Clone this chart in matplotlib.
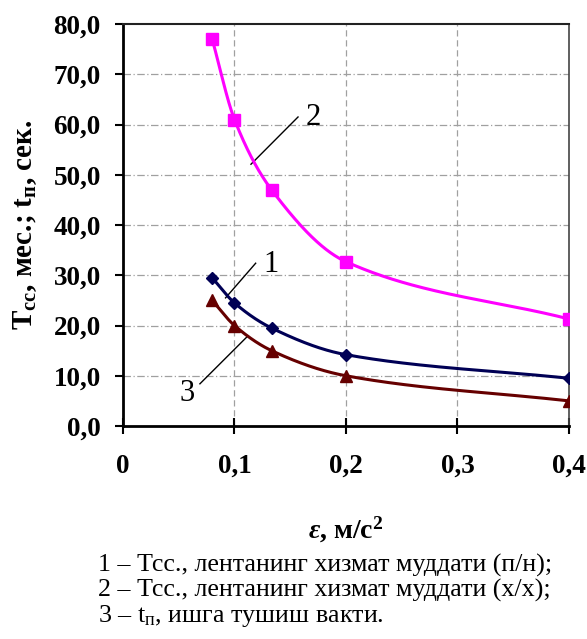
import numpy as np
import matplotlib.pyplot as plt

plt.rcParams['font.family'] = ['Liberation Serif', 'DejaVu Serif']
plt.rcParams['mathtext.fontset'] = 'custom'
plt.rcParams['mathtext.rm'] = 'Liberation Serif'
plt.rcParams['mathtext.it'] = 'Liberation Serif:italic:bold'
plt.rcParams['mathtext.bf'] = 'Liberation Serif:bold'

# данные
eps = [0.08, 0.1, 0.1333, 0.2, 0.4]
t_pn = [29.5, 24.5, 19.5, 14.2, 9.5]    # 1
t_xx = [77.0, 61.0, 47.0, 32.7, 21.3]   # 2
t_p = [25.0, 20.0, 15.0, 10.0, 5.0]     # 3
y_ticks = [0, 10, 20, 30, 40, 50, 60, 70, 80]
x_ticks = [0, 0.1, 0.2, 0.3, 0.4]
x_tick_labels = ["0", "0,1", "0,2", "0,3", "0,4"]


def smooth(x, y, n=200):
    # монотонный кубический эрмитов сплайн (плавная линия как в Excel)
    x = np.asarray(x, float)
    y = np.asarray(y, float)
    h = np.diff(x)
    d = np.diff(y) / h
    m = np.zeros_like(y)
    m[0], m[-1] = d[0], d[-1]
    for i in range(1, len(x) - 1):
        if d[i - 1] * d[i] > 0:
            w1 = 2 * h[i] + h[i - 1]
            w2 = h[i] + 2 * h[i - 1]
            m[i] = (w1 + w2) / (w1 / d[i - 1] + w2 / d[i])
    xs, ys = [], []
    for i in range(len(x) - 1):
        t = np.linspace(0, 1, n)
        h00 = 2 * t**3 - 3 * t**2 + 1
        h10 = t**3 - 2 * t**2 + t
        h01 = -2 * t**3 + 3 * t**2
        h11 = t**3 - t**2
        xs.append(x[i] + t * h[i])
        ys.append(h00 * y[i] + h10 * h[i] * m[i] + h01 * y[i + 1] + h11 * h[i] * m[i + 1])
    return np.concatenate(xs), np.concatenate(ys)


fig = plt.figure(figsize=(5.87, 6.39), dpi=100)
ax = fig.add_axes([0.2095, 0.3333, 0.9693 - 0.2095, 0.9624 - 0.3333])

for ys, col, mk, ms in [(t_xx, '#ff00ff', 's', 9), (t_pn, '#000055', 'D', 6), (t_p, '#660000', '^', 8.5)]:
    sx, sy = smooth(eps, ys)
    ax.plot(sx, sy, color=col, linewidth=2.2, zorder=3)
    ax.plot(eps, ys, linestyle='none', marker=mk, markersize=ms, color=col, zorder=4)

ax.set_xlim(0, 0.4)
ax.set_ylim(0, 80)
ax.set_xticks(x_ticks)
ax.set_xticklabels(x_tick_labels)
ax.set_yticks(y_ticks)
ax.set_yticklabels([f"{v:.1f}".replace('.', ',') for v in y_ticks])

for v in [0.1, 0.2, 0.3]:
    ax.axvline(v, color='#a0a0a0', linestyle=(0, (5, 3)), linewidth=0.9, zorder=1)
for v in y_ticks[1:-1]:
    ax.axhline(v, color='#a0a0a0', linestyle=(0, (6, 2, 1, 2)), linewidth=0.9, zorder=1)

ax.spines['left'].set_linewidth(2)
ax.spines['bottom'].set_linewidth(2)
ax.spines['top'].set_linewidth(1.5)
ax.spines['top'].set_color('#222222')
ax.spines['right'].set_linewidth(1.2)
ax.spines['right'].set_color('#444444')
ax.tick_params(axis='y', direction='out', length=6, width=1.5, labelsize=19.5, pad=10)
ax.tick_params(axis='x', direction='inout', length=12, width=1.5, labelsize=19.5, pad=14)
for lab in ax.get_xticklabels() + ax.get_yticklabels():
    lab.set_fontweight('bold')

ax.set_ylabel(r"T$_{\mathbf{сс}}$, мес.; t$_{\mathbf{п}}$, сек.", fontsize=21, fontweight='bold', labelpad=10)
ax.set_xlabel(r"$\mathit{ε}$, м/с$^{\mathbf{2}}$", fontsize=20, fontweight='bold', labelpad=26)

# выноски
ax.plot([0.1148, 0.157], [52.1, 61.5], color='black', linewidth=1)
ax.text(0.164, 60.0, "2", fontsize=22)
ax.plot([0.092, 0.119], [25.5, 32.4], color='black', linewidth=1)
ax.text(0.1256, 30.6, "1", fontsize=22)
ax.plot([0.069, 0.111], [8.4, 17.7], color='black', linewidth=1)
ax.text(0.0505, 5.0, "3", fontsize=22)

lines = ["1 – Тсс., лентанинг хизмат муддати (п/н);",
         "2 – Тсс., лентанинг хизмат муддати (х/х);",
         r"3 – t$_{\mathregular{п}}$, ишга тушиш вакти."]
for i, s in enumerate(lines):
    fig.text(98 / 587, 1 - (572 + 25 * i) / 639, s, fontsize=18.7, va='baseline')

fig.savefig("out.png", dpi=100)
